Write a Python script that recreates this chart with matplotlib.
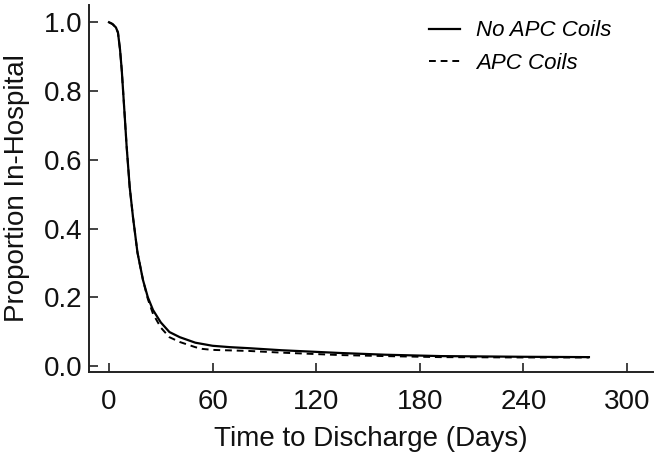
import numpy as np
import matplotlib
matplotlib.use("Agg")
import matplotlib.pyplot as plt

plt.rcParams['font.family'] = ['Liberation Sans', 'DejaVu Sans']

# values
days_no = [0, 2, 4, 5.2, 6.4, 7.4, 8.3, 9.2, 10.2, 12, 13.9, 16.5, 19.7, 22.5, 25.5,
           30, 35, 41, 50, 60, 70, 81, 100, 134, 160, 192, 240, 278]
prop_no = [1.0, 0.995, 0.985, 0.97, 0.92, 0.86, 0.79, 0.72, 0.64, 0.52, 0.433, 0.33, 0.25,
           0.20, 0.163, 0.127, 0.099, 0.084, 0.068, 0.059, 0.055, 0.052, 0.046, 0.038,
           0.033, 0.029, 0.027, 0.026]

days_apc = [0, 2, 4, 5.2, 6.4, 7.4, 8.3, 9.2, 10.2, 12, 13.9, 16.5, 19.7, 22.5, 25.5,
            30, 35, 41, 50, 54, 60, 81, 100, 134, 160, 192, 240, 278]
prop_apc = [1.0, 0.995, 0.985, 0.97, 0.92, 0.86, 0.79, 0.72, 0.64, 0.52, 0.433, 0.33, 0.25,
            0.195, 0.152, 0.112, 0.084, 0.070, 0.055, 0.050, 0.047, 0.044, 0.039, 0.032,
            0.029, 0.026, 0.025, 0.025]

xticks = [0, 60, 120, 180, 240, 300]
yticks = [0.0, 0.2, 0.4, 0.6, 0.8, 1.0]

fig = plt.figure(figsize=(6.61, 4.62), dpi=100)
ax = fig.add_axes([0.1346, 0.195, 0.853, 0.794])

ax.plot(days_no, prop_no, color='black', lw=1.6, ls='-', label='No APC Coils')
ax.plot(days_apc, prop_apc, color='black', lw=1.4, ls=(0, (3.5, 2.5)), label='APC Coils')

ax.set_xlim(-11.6, 315)
ax.set_ylim(-0.017, 1.05)
ax.set_xticks(xticks)
ax.set_xticklabels([str(t) for t in xticks])
ax.set_yticks(yticks)
ax.set_yticklabels([f"{t:.1f}" for t in yticks])

for s in ['top', 'right']:
    ax.spines[s].set_visible(False)
for s in ['left', 'bottom']:
    ax.spines[s].set_linewidth(1.4)
    ax.spines[s].set_color('#222222')

ax.tick_params(axis='both', direction='in', length=6.5, width=1.2, color='#222222',
               labelsize=20, colors='#111111')
ax.tick_params(axis='x', pad=12)
ax.tick_params(axis='y', pad=5)

ax.set_xlabel('Time to Discharge (Days)', fontsize=20, labelpad=8, color='#111111')
ax.set_ylabel('Proportion In-Hospital', fontsize=20, labelpad=10, color='#111111')

leg = ax.legend(loc='upper left', bbox_to_anchor=(0.603, 0.958), frameon=False,
                prop={'style': 'italic', 'size': 16}, handlelength=1.4,
                handletextpad=0.7, labelspacing=0.5, borderpad=0, borderaxespad=0)

fig.savefig('out.png', dpi=100)
